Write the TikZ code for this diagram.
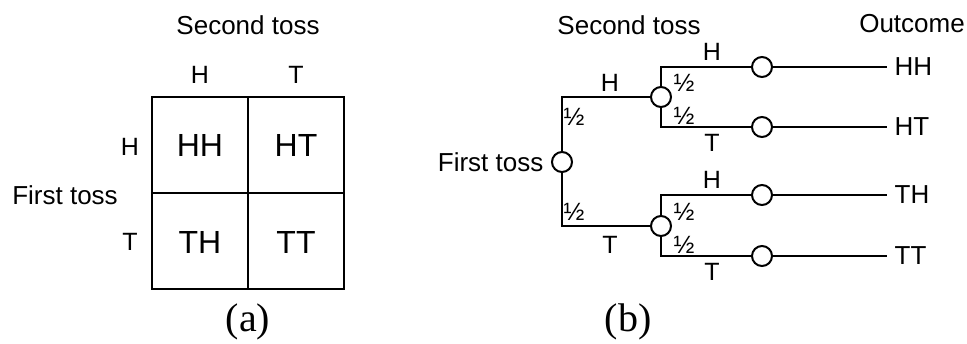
\documentclass[tikz,border=0pt]{standalone}
\usepackage{fontspec}
\setmainfont{Liberation Sans}
\newfontfamily\capfont{Liberation Serif}
\usetikzlibrary{positioning}

\tikzset{
  lbl/.style={font=\fontsize{13}{15}\selectfont},
  side/.style={font=\fontsize{12.5}{14}\selectfont},
  cell/.style={font=\fontsize{16}{18}\selectfont},
  half/.style={font=\fontsize{12.5}{14}\selectfont, inner sep=0pt},
  chance/.style={circle, draw, minimum size=10pt, inner sep=0pt, fill=white},
  caption/.style={font=\capfont\fontsize{20}{22}\selectfont}
}

\begin{document}
\begin{tikzpicture}[x=0.5pt, y=-0.5pt, line width=1pt]
  \useasboundingbox (0,0) rectangle (967,343);

  % (a) table of outcomes
  \draw (152,97) rectangle (344,289);
  \draw (248,97) -- (248,289);
  \draw (152,193) -- (344,193);
  \node[lbl] (secA) at (248,25) {Second toss};
  \node[side] (colH) at (200,75) {H};
  \node[side] (colT) at (296,75) {T};
  \node[side] (rowH) at (130,147) {H};
  \node[side] (rowT) at (130,242) {T};
  \node[lbl] (firstA) at (65,195) {First toss};
  \node[cell] (cHH) at (200,145) {HH};
  \node[cell] (cHT) at (296,145) {HT};
  \node[cell] (cTH) at (200,242) {TH};
  \node[cell] (cTT) at (296,242) {TT};
  \node[caption] (capA) at (248,322) {(a)};

  % (b) tree
  \node[chance] (root) at (562,162) {};
  \node[lbl, left=0pt of root] (firstB) {First toss};
  \node[chance] (midH) at (661,97) {};
  \node[chance] (midT) at (661,226) {};
  \node[chance] (lHH) at (762,67) {};
  \node[chance] (lHT) at (762,127) {};
  \node[chance] (lTH) at (762,195) {};
  \node[chance] (lTT) at (762,256) {};
  \node[lbl, anchor=west] (oHH) at (887,67) {HH};
  \node[lbl, anchor=west] (oHT) at (887,127) {HT};
  \node[lbl, anchor=west] (oTH) at (887,195) {TH};
  \node[lbl, anchor=west] (oTT) at (887,256) {TT};
  \node[lbl] (secB) at (629,25) {Second toss};
  \node[lbl] (outB) at (912,24) {Outcome};

  \draw (root) |- (midH);
  \draw (root) |- (midT);
  \draw (midH) |- (lHH);
  \draw (midH) |- (lHT);
  \draw (midT) |- (lTH);
  \draw (midT) |- (lTT);
  \draw (lHH) -- (oHH);
  \draw (lHT) -- (oHT);
  \draw (lTH) -- (oTH);
  \draw (lTT) -- (oTT);

  \node[side] (bH) at (610,83) {H};
  \node[side] (bT) at (610,245) {T};
  \node[side] (bHH) at (712,52) {H};
  \node[side] (bHT) at (712,143) {T};
  \node[side] (bTH) at (712,180) {H};
  \node[side] (bTT) at (712,272) {T};
  \node[half] (p1) at (574,117) {½};
  \node[half] (p2) at (574,212) {½};
  \node[half] (p3) at (684,83) {½};
  \node[half] (p4) at (684,116) {½};
  \node[half] (p5) at (684,212) {½};
  \node[half] (p6) at (684,245) {½};
  \node[caption] (capB) at (628,322) {(b)};
\end{tikzpicture}
\end{document}
